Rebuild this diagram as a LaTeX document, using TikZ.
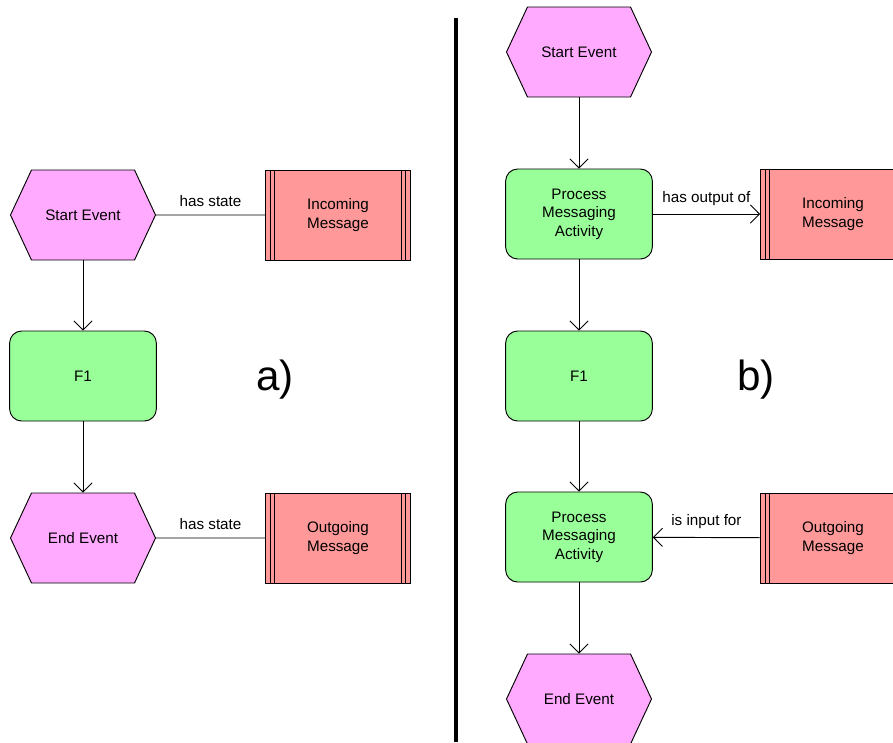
\documentclass[tikz,border=0pt]{standalone}
\usepackage{fontspec}
\setmainfont{Liberation Sans}
\usetikzlibrary{arrows.meta, shapes.symbols}
\definecolor{EventPink}{HTML}{FFAAFF}
\definecolor{FuncGreen}{HTML}{99FF99}
\definecolor{MsgRed}{HTML}{FF9999}

\begin{document}
\begin{tikzpicture}[
    x=0.03cm, y=-0.03cm,
    every node/.style={font=\fontsize{13}{15.7}\selectfont},
    event/.style={signal, signal to=east and west, signal pointer angle=130,
        draw=black, line width=0.8pt, fill=EventPink, inner sep=0pt,
        minimum width=4.35cm, minimum height=2.7cm},
    func/.style={rectangle, rounded corners=0.36cm, draw=black, line width=0.8pt,
        fill=FuncGreen, minimum width=4.4cm, minimum height=2.7cm, align=center},
    message/.style={rectangle, draw=black, line width=0.8pt, fill=MsgRed,
        minimum width=4.35cm, minimum height=2.7cm, align=center,
        path picture={
            \foreach \dx in {0.14cm, 0.28cm} {
                \draw[line width=0.8pt] ([xshift=\dx]path picture bounding box.north west)
                    -- ([xshift=\dx]path picture bounding box.south west);
                \draw[line width=0.8pt] ([xshift=-\dx]path picture bounding box.north east)
                    -- ([xshift=-\dx]path picture bounding box.south east);
            }
        }},
    arr/.style={-{Straight Barb[length=0.27cm, width=0.55cm]}, line width=0.8pt},
    link/.style={line width=0.8pt},
    lbl/.style={midway, above=0.12cm},
    tag/.style={font=\fontsize{36}{40}\selectfont},
]

\useasboundingbox (0,0) rectangle (893,742);
\clip (0,0) rectangle (893,742);

% === Part a) ===
\node[event] (aStart) at (83, 215) {Start Event};
\node[message] (aMsgIn) at (338, 215) {Incoming\\Message};
\node[func] (aF1) at (83, 376) {F1};
\node[event] (aEnd) at (83, 538) {End Event};
\node[message] (aMsgOut) at (338, 538) {Outgoing\\Message};

\draw[link] (aStart) -- (aMsgIn) node[lbl] {has state};
\draw[arr] (aStart.south) -- (aF1.north);
\draw[arr] (aF1.south) -- (aEnd.north);
\draw[link] (aEnd) -- (aMsgOut) node[lbl] {has state};

\node[tag] (aTag) at (275, 380) {a)};

% === Divider ===
\draw[line width=3.4pt] (456, 18) -- (456, 742);

% === Part b) ===
\node[event] (bStart) at (579, 52) {Start Event};
\node[func] (bProcIn) at (579, 214) {Process\\Messaging\\Activity};
\node[message] (bMsgIn) at (833, 214) {Incoming\\Message};
\node[func] (bF1) at (579, 376) {F1};
\node[func] (bProcOut) at (579, 537) {Process\\Messaging\\Activity};
\node[message] (bMsgOut) at (833, 538) {Outgoing\\Message};
\node[event] (bEnd) at (579, 699) {End Event};

\draw[arr] (bStart.south) -- (bProcIn.north);
\draw[arr] (bProcIn) -- (bMsgIn) node[lbl] {has output of};
\draw[arr] (bProcIn.south) -- (bF1.north);
\draw[arr] (bF1.south) -- (bProcOut.north);
\draw[arr] (bMsgOut) -- (bProcOut) node[lbl] {is input for};
\draw[arr] (bProcOut.south) -- (bEnd.north);

\node[tag] (bTag) at (756, 380) {b)};

\end{tikzpicture}
\end{document}
